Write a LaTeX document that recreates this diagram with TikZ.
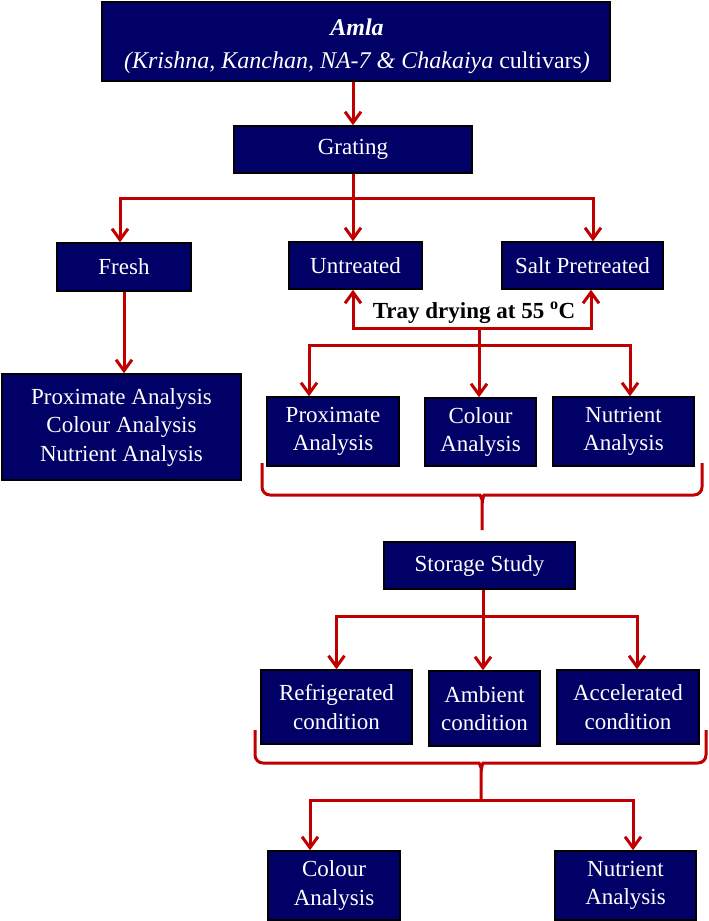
\documentclass[tikz,border=0pt]{standalone}
\usepackage{fontspec}
\setmainfont{Liberation Serif}
\usetikzlibrary{arrows.meta}
\definecolor{boxblue}{RGB}{0,0,102}
\definecolor{arrred}{RGB}{192,0,0}
\begin{document}
\begin{tikzpicture}[x=1pt,y=-1pt,
  box/.style={draw=black, line width=1.5pt, fill=boxblue, text=white, align=center, inner sep=0pt, font=\fontsize{23}{28.5}\selectfont},
  link/.style={draw=arrred, line width=3pt},
  arr/.style={link, -{Straight Barb[length=11pt,width=16pt]}},
  brace/.style={link, rounded corners=8pt}]
\useasboundingbox (0,0) rectangle (709,921);

\node[box, minimum width=508pt, minimum height=79pt] (amla) at (356,41.5) {};
\node[text=white, align=center, inner sep=0pt, font=\fontsize{24}{33}\selectfont] (amlatext) at (357,46) {\textbf{\textit{Amla}}\\\textit{(Krishna, Kanchan, NA-7 \& Chakaiya} cultivars\textit{)}};
\node[box, minimum width=238pt, minimum height=47pt] (grating) at (353,149.5) {Grating};
\node[box, minimum width=134pt, minimum height=48pt] (fresh) at (124,267) {Fresh};
\node[box, minimum width=133pt, minimum height=47pt] (untreated) at (355.5,265.5) {Untreated};
\node[box, minimum width=161pt, minimum height=47pt] (salt) at (582.5,265.5) {Salt Pretreated};
\node[box, minimum width=239pt, minimum height=106pt] (freshan) at (121.5,427) {Proximate Analysis\\Colour Analysis\\Nutrient Analysis};
\node[box, minimum width=132pt, minimum height=69pt] (prox) at (333,431.5) {Proximate\\Analysis};
\node[box, minimum width=111pt, minimum height=68pt] (colour) at (480.5,432) {Colour\\Analysis};
\node[box, minimum width=141pt, minimum height=69pt] (nutr) at (623.5,431.5) {Nutrient\\Analysis};
\node[box, minimum width=191pt, minimum height=47pt] (storage) at (479.5,565.5) {Storage Study};
\node[box, minimum width=151pt, minimum height=74pt] (refr) at (336.5,707) {Refrigerated\\condition};
\node[box, minimum width=111pt, minimum height=75pt] (amb) at (484.5,708.5) {Ambient\\condition};
\node[box, minimum width=142pt, minimum height=74pt] (acc) at (628,707) {Accelerated\\condition};
\node[box, minimum width=132pt, minimum height=69pt] (colour2) at (334,885.5) {Colour\\Analysis};
\node[box, minimum width=141pt, minimum height=69pt] (nutr2) at (625.5,885.5) {Nutrient\\Analysis};

\node[font=\bfseries\fontsize{23}{28}\selectfont, inner sep=0pt] (tray) at (474,313) {Tray drying at 55 \textsuperscript{o}C};

% top
\draw[arr] (grating.north |- amla.south) -- (grating.north);
\coordinate (g1) at (353,198);
\draw[arr] (grating.south) -- (grating.south |- untreated.north);
\draw[arr] (g1) -| ([xshift=-4pt]fresh.north);
\draw[arr] (g1) -| ([xshift=10.5pt]salt.north);
\draw[arr] (fresh.south) -- (fresh.south |- freshan.north);

% tray drying
\coordinate (t1) at (479,328);
\draw[arr] (t1) -| ([xshift=-2.5pt]untreated.south);
\draw[arr] (t1) -| ([xshift=8.5pt]salt.south);
\draw[arr] (t1) -- (t1 |- colour.north);
\coordinate (s1) at (479,345);
\draw[arr] (s1) -| ([xshift=-24pt]prox.north);
\draw[arr] (s1) -| ([xshift=6.5pt]nutr.north);

% brace 1
\draw[brace] (262,463) -- (262,495) -- (472,495) .. controls (480,495) and (482,499) .. (482,508) -- (482,530)
  (482,508) .. controls (482,499) and (484,495) .. (492,495) -- (702,495) -- (702,463);

% storage
\coordinate (s2) at (483,616);
\draw[arr] (storage.south -| s2) -- (s2 |- amb.north);
\draw[arr] (s2) -| (refr.north);
\draw[arr] (s2) -| ([xshift=9pt]acc.north);

% brace 2
\draw[brace] (255,730) -- (255,763) -- (471,763) .. controls (479,763) and (481,767) .. (481,776) -- (481,800)
  (481,776) .. controls (481,767) and (483,763) .. (491,763) -- (706,763) -- (706,730);
\coordinate (s3) at (481,800);
\draw[arr] (s3) -| ([xshift=-24pt]colour2.north);
\draw[arr] (s3) -| ([xshift=7.5pt]nutr2.north);
\end{tikzpicture}
\end{document}
